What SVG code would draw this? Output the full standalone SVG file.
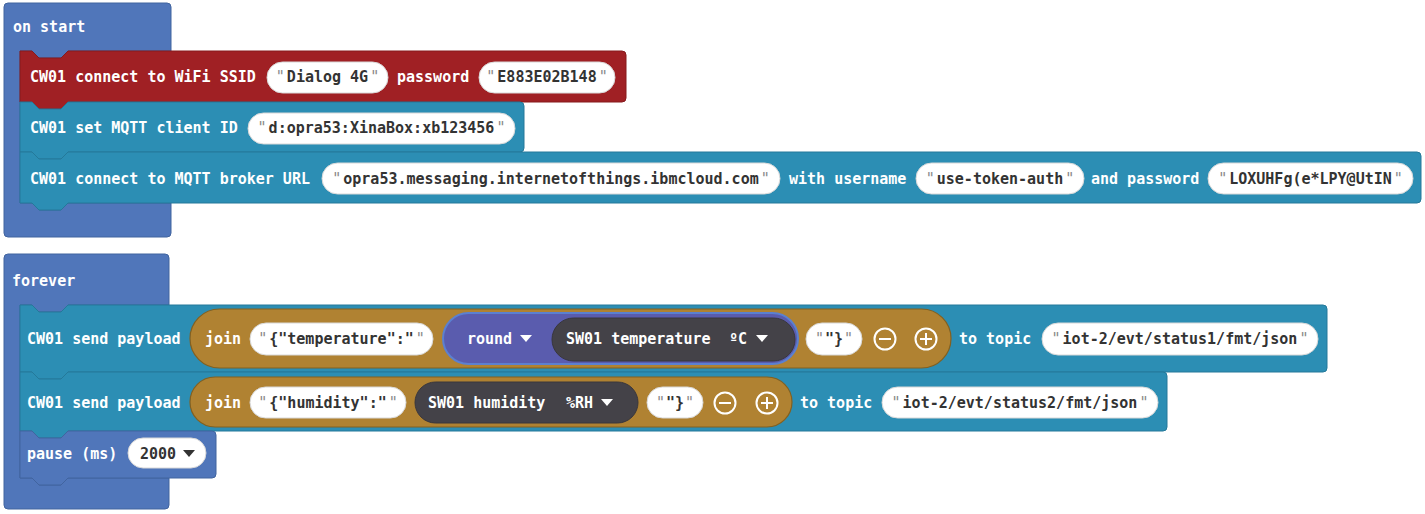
<svg xmlns="http://www.w3.org/2000/svg" width="1425" height="514" viewBox="0 0 1425 514">
<style>
.t{font-family:"DejaVu Sans Mono","Liberation Mono",monospace;font-size:15px;font-weight:bold;fill:#fff}
.v{font-family:"DejaVu Sans Mono","Liberation Mono",monospace;font-size:15px;font-weight:bold;fill:#333}
.q{fill:#8a8a8a;font-weight:normal}
.hat{fill:#5076ba;stroke:#41649f;stroke-width:1}
.red{fill:#a02024;stroke:#861a1d;stroke-width:1}
.teal{fill:#2c8eb4;stroke:#24799a;stroke-width:1}
.join{fill:#b08232;stroke:#84601f;stroke-width:1.2}
.rnd{fill:#5a5cae;stroke:#5b80d0;stroke-width:2}
.dark{fill:#444248;stroke:#38363c;stroke-width:1}
.pill{fill:#fff;stroke:#d8d8d8;stroke-width:1}
.ico{fill:none;stroke:#fff;stroke-width:2}
.tri{fill:#fff}
</style>
<rect width="1425" height="514" fill="#fff"/>
<g id="connectors"/>

<g id="on-start">
<path class="hat" d="M 8 3 H 167 Q 171 3 171 7 V 51 H 68 L 61 58 H 39 L 32 51 H 20 V 203 H 32 L 39 210 H 61 L 68 203 H 171 V 233 Q 171 237 167 237 H 8 Q 4 237 4 233 V 7 Q 4 3 8 3 Z"/>
<text class="t" x="13" y="32">on start</text>
</g>

<g id="wifi-connect">
<path class="red" d="M 20 51 H 32 L 39 58 H 61 L 68 51 H 622 Q 626 51 626 55 V 98 Q 626 102 622 102 H 68 L 61 109 H 39 L 32 102 H 20 Z"/>
<text class="t" x="30" y="82">CW01 connect to WiFi SSID</text>
<rect class="pill" x="267" y="62" width="121" height="31" rx="15.5"/>
<text class="v" x="327.5" y="82" text-anchor="middle"><tspan class="q">"</tspan><tspan dx="2">Dialog 4G</tspan><tspan class="q" dx="2">"</tspan></text>
<text class="t" x="397" y="82">password</text>
<rect class="pill" x="479" y="62" width="136" height="31" rx="15.5"/>
<text class="v" x="547" y="82" text-anchor="middle"><tspan class="q">"</tspan><tspan dx="2">E883E02B148</tspan><tspan class="q" dx="2">"</tspan></text>
</g>

<g id="set-client-id">
<path class="teal" d="M 20 102 H 32 L 39 109 H 61 L 68 102 H 520 Q 524 102 524 106 V 148 Q 524 152 520 152 H 68 L 61 159 H 39 L 32 152 H 20 Z"/>
<text class="t" x="30" y="133">CW01 set MQTT client ID</text>
<rect class="pill" x="248" y="113" width="267" height="31" rx="15.5"/>
<text class="v" x="381.5" y="133" text-anchor="middle"><tspan class="q">"</tspan><tspan dx="2">d:opra53:XinaBox:xb123456</tspan><tspan class="q" dx="2">"</tspan></text>
</g>

<g id="connect-broker">
<path class="teal" d="M 20 152 H 32 L 39 159 H 61 L 68 152 H 1417 Q 1421 152 1421 156 V 199 Q 1421 203 1417 203 H 68 L 61 210 H 39 L 32 203 H 20 Z"/>
<text class="t" x="30" y="184">CW01 connect to MQTT broker URL</text>
<rect class="pill" x="322" y="163" width="458" height="31" rx="15.5"/>
<text class="v" x="551" y="184" text-anchor="middle"><tspan class="q">"</tspan><tspan dx="2">opra53.messaging.internetofthings.ibmcloud.com</tspan><tspan class="q" dx="2">"</tspan></text>
<text class="t" x="789" y="184">with username</text>
<rect class="pill" x="916" y="163" width="168" height="31" rx="15.5"/>
<text class="v" x="1000" y="184" text-anchor="middle"><tspan class="q">"</tspan><tspan dx="2">use-token-auth</tspan><tspan class="q" dx="2">"</tspan></text>
<text class="t" x="1091" y="184">and password</text>
<rect class="pill" x="1208" y="163" width="205" height="31" rx="15.5"/>
<text class="v" x="1310.5" y="184" text-anchor="middle"><tspan class="q">"</tspan><tspan dx="2">LOXUHFg(e*LPY@UtIN</tspan><tspan class="q" dx="2">"</tspan></text>
</g>

<g id="forever">
<path class="hat" d="M 8 254 H 165 Q 169 254 169 258 V 305 H 68 L 61 312 H 39 L 32 305 H 20 V 478 H 32 L 39 485 H 61 L 68 478 H 169 V 505 Q 169 509 165 509 H 8 Q 4 509 4 505 V 258 Q 4 254 8 254 Z"/>
<text class="t" x="12" y="286">forever</text>
</g>

<g id="send-temperature">
<path class="teal" d="M 20 305 H 32 L 39 312 H 61 L 68 305 H 1323 Q 1327 305 1327 309 V 368 Q 1327 372 1323 372 H 68 L 61 379 H 39 L 32 372 H 20 Z"/>
<text class="t" x="27" y="344">CW01 send payload</text>
<rect class="join" x="190" y="309" width="761" height="59" rx="29.5"/>
<text class="t" x="205" y="344">join</text>
<rect class="pill" x="250" y="323" width="183" height="32" rx="16"/>
<text class="v" x="341.5" y="344" text-anchor="middle"><tspan class="q">"</tspan><tspan dx="2">{"temperature":"</tspan><tspan class="q" dx="2">"</tspan></text>
<rect class="rnd" x="443" y="313" width="355" height="51" rx="25.5"/>
<text class="t" x="467" y="344">round</text>
<path class="tri" d="M 520 335 H 532 L 526 342 Z"/>
<rect class="dark" x="552" y="318" width="243" height="43" rx="21.5"/>
<text class="t" x="566" y="344">SW01 temperature</text>
<text class="t" x="729" y="344">ºC</text>
<path class="tri" d="M 756 335 H 768 L 762 342 Z"/>
<rect class="pill" x="806" y="323" width="56" height="32" rx="16"/>
<text class="v" x="834" y="344" text-anchor="middle"><tspan class="q">"</tspan><tspan dx="1">"}</tspan><tspan class="q" dx="1">"</tspan></text>
<circle class="ico" cx="885" cy="339" r="10.5"/>
<path class="ico" d="M 879 339 H 891"/>
<circle class="ico" cx="926" cy="339" r="10.5"/>
<path class="ico" d="M 920 339 H 932 M 926 333 V 345"/>
<text class="t" x="959" y="344">to topic</text>
<rect class="pill" x="1042" y="323" width="276" height="32" rx="16"/>
<text class="v" x="1180" y="344" text-anchor="middle"><tspan class="q">"</tspan><tspan dx="2">iot-2/evt/status1/fmt/json</tspan><tspan class="q" dx="2">"</tspan></text>
</g>

<g id="send-humidity">
<path class="teal" d="M 20 372 H 32 L 39 379 H 61 L 68 372 H 1163 Q 1167 372 1167 376 V 427 Q 1167 431 1163 431 H 68 L 61 438 H 39 L 32 431 H 20 Z"/>
<text class="t" x="27" y="408">CW01 send payload</text>
<rect class="join" x="190" y="377" width="602" height="50" rx="25"/>
<text class="t" x="205" y="408">join</text>
<rect class="pill" x="250" y="387" width="156" height="31" rx="15.5"/>
<text class="v" x="328" y="408" text-anchor="middle"><tspan class="q">"</tspan><tspan dx="2">{"humidity":"</tspan><tspan class="q" dx="2">"</tspan></text>
<rect class="dark" x="415" y="382" width="223" height="41" rx="20.5"/>
<text class="t" x="428" y="408">SW01 humidity</text>
<text class="t" x="566" y="408">%RH</text>
<path class="tri" d="M 601 399 H 613 L 607 406 Z"/>
<rect class="pill" x="647" y="387" width="56" height="31" rx="15.5"/>
<text class="v" x="675" y="408" text-anchor="middle"><tspan class="q">"</tspan><tspan dx="1">"}</tspan><tspan class="q" dx="1">"</tspan></text>
<circle class="ico" cx="725" cy="403" r="10.5"/>
<path class="ico" d="M 719 403 H 731"/>
<circle class="ico" cx="767" cy="403" r="10.5"/>
<path class="ico" d="M 761 403 H 773 M 767 397 V 409"/>
<text class="t" x="800" y="408">to topic</text>
<rect class="pill" x="882" y="387" width="276" height="31" rx="15.5"/>
<text class="v" x="1020" y="408" text-anchor="middle"><tspan class="q">"</tspan><tspan dx="2">iot-2/evt/status2/fmt/json</tspan><tspan class="q" dx="2">"</tspan></text>
</g>

<g id="pause">
<path class="hat" d="M 20 431 H 32 L 39 438 H 61 L 68 431 H 212 Q 216 431 216 435 V 474 Q 216 478 212 478 H 68 L 61 485 H 39 L 32 478 H 20 Z"/>
<text class="t" x="27" y="459">pause (ms)</text>
<rect class="pill" x="128" y="438" width="78" height="30" rx="15"/>
<text class="v" x="140" y="459">2000</text>
<path d="M 183 450 H 195 L 189 457 Z" fill="#333"/>
</g>
</svg>
